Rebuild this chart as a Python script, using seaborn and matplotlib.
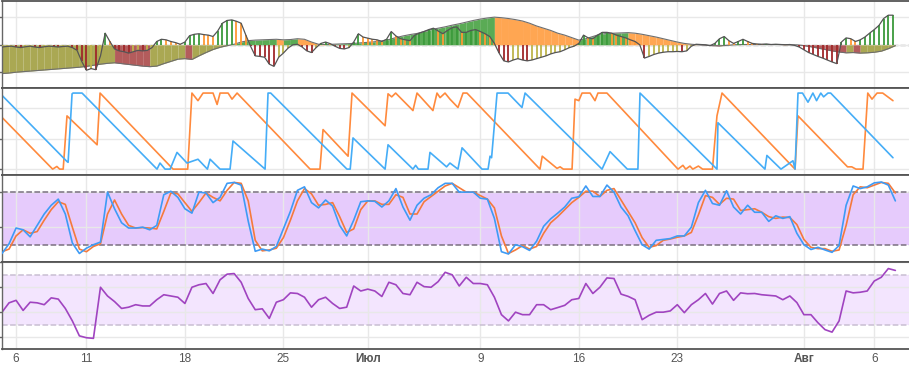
import numpy as np
import pandas as pd
import seaborn as sns
import matplotlib.pyplot as plt

# ─────────────────────────────────────────
# DATA
# ─────────────────────────────────────────
START = pd.Timestamp("2018-06-05")

# panel 1: slow oscillator (12h steps) and fast oscillator (8h steps)
osc_slow = [-1.04, -1.02, -0.99, -0.97, -0.95, -0.93, -0.91, -0.89, -0.87, -0.85,
            -0.83, -0.81, -0.78, -0.74, -0.70, -0.67, -0.65, -0.68, -0.71, -0.74,
            -0.77, -0.79, -0.77, -0.68, -0.60, -0.52, -0.50, -0.53, -0.40, -0.28,
            -0.17, -0.09, -0.03, 0.02, 0.10, 0.15, 0.17, 0.18, 0.19, 0.20,
            0.18, 0.19, 0.22, 0.20, 0.10, 0.02, 0.01, 0.02, 0.03, 0.04,
            0.05, 0.07, 0.09, 0.11, 0.14, 0.19, 0.26, 0.32, 0.37, 0.41,
            0.48, 0.55, 0.60, 0.65, 0.71, 0.76, 0.82, 0.88, 0.93, 0.97,
            1.00, 0.98, 0.95, 0.91, 0.86, 0.78, 0.68, 0.60, 0.52, 0.42,
            0.35, 0.26, 0.17, 0.22, 0.30, 0.38, 0.41, 0.42, 0.43, 0.44,
            0.42, 0.38, 0.33, 0.28, 0.22, 0.16, 0.10, 0.05, 0.02, 0.00,
            -0.01, -0.03, -0.04, -0.02, 0.00, 0.01, 0.01, 0.01, 0.01, 0.01,
            0.01, 0.01, 0.00, 0.00, -0.03, -0.07, -0.12, -0.17, -0.22, -0.26,
            -0.29, -0.28, -0.30, -0.29, -0.27, -0.23, -0.14, -0.03]

osc_fast = [-0.08, -0.06, -0.05, -0.08, -0.10, -0.07, -0.05, -0.08, -0.10, -0.07,
            -0.05, -0.06, -0.08, -0.06, -0.05, -0.10, -0.20, -0.60, -0.92, -0.86,
            -0.90, -0.40, 0.42, 0.12, -0.15, -0.22, -0.25, -0.30, -0.25, -0.20,
            -0.22, -0.20, -0.10, 0.12, 0.20, 0.18, 0.12, 0.08, 0.02, 0.10,
            0.33, 0.38, 0.40, 0.37, 0.35, 0.30, 0.50, 0.78, 0.88, 0.90,
            0.85, 0.78, 0.35, -0.05, -0.40, -0.42, -0.45, -0.70, -0.78, -0.45,
            -0.30, -0.12, 0.00, 0.02, -0.08, -0.22, -0.28, -0.10, 0.05, 0.10,
            0.04, -0.05, -0.13, -0.15, -0.10, 0.10, 0.40, 0.28, 0.24, 0.20,
            0.18, 0.12, 0.20, 0.48, 0.32, 0.22, 0.18, 0.15, 0.35, 0.42,
            0.48, 0.55, 0.60, 0.50, 0.40, 0.52, 0.62, 0.65, 0.45, 0.45,
            0.52, 0.55, 0.48, 0.40, 0.30, 0.05, -0.30, -0.58, -0.62, -0.55,
            -0.50, -0.55, -0.58, -0.55, -0.50, -0.45, -0.40, -0.33, -0.28, -0.25,
            -0.18, -0.10, -0.05, 0.05, 0.35, 0.25, 0.22, 0.35, 0.45, 0.45,
            0.42, 0.35, 0.30, 0.25, 0.18, 0.12, 0.00, -0.48, -0.42, -0.35,
            -0.30, -0.27, -0.25, -0.25, -0.24, -0.25, -0.22, -0.05, 0.02, 0.01,
            0.00, -0.03, 0.05, 0.22, 0.30, 0.15, 0.05, 0.12, 0.20, 0.12,
            0.05, 0.03, 0.02, 0.03, 0.01, 0.02, 0.01, 0.00, 0.01, -0.02,
            -0.08, -0.18, -0.28, -0.35, -0.42, -0.48, -0.55, -0.62, -0.68, 0.10,
            0.25, 0.22, 0.12, 0.18, 0.28, 0.42, 0.55, 0.70, 0.95, 1.07,
            1.07]

# panel 2: aroon lines, vertices (days since START, value)
aroon_blue_days = [0.0, 4.62, 4.70, 4.98, 5.05, 5.69, 11.02, 11.23, 11.59, 11.95,
                   12.44, 13.15, 13.93, 14.6, 14.79, 15.5, 16.21, 16.42, 18.70, 18.91,
                   19.1, 24.52, 24.75, 24.95, 27.23, 27.44, 29.21, 29.4, 29.6, 30.28,
                   30.42, 31.6, 31.84, 32.41, 32.70, 34.12, 34.55, 34.69, 34.8, 35.19,
                   35.97, 36.96, 37.18, 42.65, 43.22, 44.45, 45.2, 45.35, 50.82, 50.89,
                   54.23, 54.37, 55.37, 56.22, 56.37, 56.58, 56.9, 57.29, 57.64, 57.9,
                   58.2, 58.4, 58.71, 58.9, 63.33]
aroon_blue = [97, 10, 9, 99, 100, 100, 0, 8, 0, 0,
              22, 8, 13, 0, 13, 0, 0, 37, 0, 100,
              100, 0, 0, 41, 0, 32, 0, 5, 0, 0,
              22, 3, 8, 0, 28, 0, 0, 17, 15, 100,
              100, 81, 100, 0, 23, 0, 0, 100, 0, 61,
              0, 18, 0, 11, 0, 100, 100, 88, 100, 90,
              100, 95, 100, 100, 15]

aroon_orange_days = [0.0, 3.6, 3.9, 4.1, 4.35, 4.62, 6.76, 6.97, 12.16, 13.2,
                     13.5, 13.93, 14.29, 15.0, 15.29, 15.5, 16.07, 16.35, 16.71, 21.9,
                     22.6, 22.82, 24.6, 24.88, 27.23, 27.44, 27.7, 27.98, 29.21, 29.5,
                     30.63, 30.92, 31.14, 31.49, 31.84, 32.41, 32.77, 33.05, 38.24, 38.4,
                     39.45, 39.67, 39.9, 40.52, 40.73, 41.0, 41.23, 41.8, 42.15, 42.36,
                     43.0, 48.05, 48.4, 48.6, 48.9, 49.1, 49.5, 49.8, 50.5, 50.82,
                     51.18, 56.37, 56.58, 60.1, 60.4, 60.7, 61.2, 61.54, 61.84, 62.2,
                     62.6, 63.33]
aroon_orange = [68, 0, 3.5, 0, 0, 70, 32, 100, 0, 0,
                100, 90, 100, 100, 85, 100, 100, 92, 100, 0,
                0, 52, 17, 100, 57, 99, 95, 100, 77, 100,
                77, 100, 94, 100, 92, 81, 100, 100, 0, 17,
                1, 3, 0, 0, 92, 90, 100, 100, 90, 100,
                100, 0, 5, 0, 4, 0, 4, 0, 0, 70,
                100, 0, 70, 3, 3, 0, 0, 100, 92, 100,
                100, 90]

# panel 3: stochastic %K / %D (12h steps)
stoch_k = [10, 21, 39, 37, 29, 42, 55, 65, 72, 55,
           22, 10, 16, 20, 23, 80, 61, 45, 39, 39,
           40, 37, 42, 77, 81, 74, 61, 56, 80, 79,
           68, 74, 90, 91, 88, 47, 12.5, 15, 13, 18,
           38, 58, 82, 86, 68, 62, 71, 64, 42, 30,
           48, 69, 70, 69.5, 63, 70, 84, 63, 48, 65,
           73, 77, 85, 90, 90, 80, 80, 80, 73, 72,
           50, 12, 9.4, 20, 17.7, 13.5, 24, 41, 49.5, 56,
           63, 73, 74.7, 87, 75, 75, 88, 80, 63, 53,
           36, 20, 15, 25, 26, 27, 30, 30, 40, 68,
           82, 67, 65, 81.5, 63, 55, 65, 57, 57, 46.6,
           53, 50, 52, 33, 20, 14.5, 17, 14, 11.3, 19,
           65, 87, 84, 86, 90.5, 91.5, 88, 70]
stoch_d = [12, 15, 30, 37, 33, 35, 48, 60, 69, 66,
           40, 15, 12, 18, 21, 55, 71, 55, 42, 39,
           39.5, 39, 38, 58, 79, 78, 68, 58, 68, 79,
           74, 70, 82, 91, 90, 70, 25, 13, 14, 16,
           28, 48, 70, 84, 78, 65, 66, 68, 52, 34,
           38, 60, 70, 70, 66, 66, 77, 74, 55, 55,
           69, 75, 81, 87, 90, 85, 80, 80, 76, 72,
           62, 30, 10, 14, 19, 15, 18, 33, 45, 52,
           60, 68, 74, 81, 81, 75, 82, 84, 71, 58,
           45, 28, 17, 19, 25, 26.5, 28.5, 30, 34, 54,
           76, 74, 66, 73, 72, 59, 60, 61, 57, 52,
           50, 51.5, 51, 43, 26, 17, 15.5, 15.5, 12.5, 14,
           42, 77, 86, 85, 88, 91, 90, 79]

# panel 4: RSI (12h steps)
rsi = [40, 47.5, 49.5, 41.4, 48, 47.5, 46, 51.5, 50.5, 43,
       33, 21, 19.5, 19, 60, 53, 48.5, 43, 44, 46,
       45, 45, 50, 54, 53, 52, 47, 60, 62, 63,
       55, 66, 70.5, 71, 64, 51, 42, 42.7, 35, 48,
       50, 55.5, 55, 52, 44, 50, 52, 47, 43, 44,
       61, 57, 58.5, 57, 52.6, 64, 62, 55, 54, 64,
       60.5, 60, 64.5, 72, 70, 61, 68, 63, 63, 62,
       52, 38, 33, 40, 38, 38, 46, 46, 42, 43.7,
       45.5, 50, 51, 63, 55, 60, 67.5, 67, 54.5, 52.7,
       50, 34, 37.5, 40, 40, 41, 46, 39.6, 46, 50,
       55, 46.5, 55, 57, 49.5, 55.5, 54.8, 55, 54, 53.5,
       53, 50, 53, 47.7, 38, 38, 31.5, 26, 24, 33,
       57, 55.5, 56, 57, 65, 68, 75, 73.5]

tick_dates = ["2018-06-06", "2018-06-11", "2018-06-18", "2018-06-25", "2018-07-01",
              "2018-07-09", "2018-07-16", "2018-07-23", "2018-08-01", "2018-08-06"]
tick_labels = ["6", "11", "18", "25", "Июл", "9", "16", "23", "Авг", "6"]
month_labels = {"Июл", "Авг"}

# time axes
t12 = pd.date_range(START, periods=len(rsi), freq="12h")
t8 = pd.date_range(START, periods=len(osc_fast), freq="8h")
t_blue = START + pd.to_timedelta(aroon_blue_days, unit="D")
t_orange = START + pd.to_timedelta(aroon_orange_days, unit="D")

# ─────────────────────────────────────────
# STYLE
# ─────────────────────────────────────────
sns.set_style("whitegrid", {"grid.color": "#e8e8e8", "axes.edgecolor": "#555555"})
plt.rcParams["font.family"] = ["Liberation Sans", "DejaVu Sans"]

FILL_GREEN, FILL_ORANGE = "#5aab55", "#ffa652"
FILL_OLIVE, FILL_BROWN = "#aaa853", "#b35c5c"
BAR_GREEN, BAR_ORANGE = "#3a9a3a", "#ff9933"
BAR_RED, BAR_OLIVE = "#a0282a", "#bdb44c"

fig, axes = plt.subplots(4, 1, figsize=(9.09, 3.65), dpi=100, sharex=True)
fig.subplots_adjust(left=0.0022, right=1.0, top=0.997, bottom=0.045, hspace=0)
ax1, ax2, ax3, ax4 = axes

# ─────────────────────────────────────────
# PANEL 1 — oscillator with coloured area and bars
# ─────────────────────────────────────────
slow = np.array(osc_slow)
for k in range(len(slow) - 1):
    a0, a1 = slow[k], slow[k + 1]
    if a0 + a1 >= 0:
        c = FILL_GREEN if a1 >= a0 else FILL_ORANGE
    else:
        c = FILL_OLIVE if a1 >= a0 else FILL_BROWN
    ax1.fill_between(t12[k:k + 2], 0, slow[k:k + 2], color=c, lw=0, zorder=1)
sns.lineplot(x=t12, y=slow, ax=ax1, color="#6e6e6e", linewidth=0.8, zorder=2)

fast = np.array(osc_fast)
diff = np.diff(fast, prepend=fast[0])
bar_colors = np.where(fast >= 0,
                      np.where(diff >= 0, BAR_GREEN, BAR_ORANGE),
                      np.where(diff < 0, BAR_RED, BAR_OLIVE))
ax1.vlines(t8, 0, fast, colors=bar_colors, linewidth=1.3, zorder=3)
sns.lineplot(x=t8, y=fast, ax=ax1, color="#555555", linewidth=0.9, zorder=4)
ax1.axhline(0, color="#999999", linestyle="--", linewidth=1, zorder=0)
ax1.set_ylim(-1.56, 1.58)
ax1.set_yticks([-1, 0, 1])

# ─────────────────────────────────────────
# PANEL 2 — aroon
# ─────────────────────────────────────────
sns.lineplot(x=t_orange, y=aroon_orange, ax=ax2, color="#ff8a3d", linewidth=1.2)
sns.lineplot(x=t_blue, y=aroon_blue, ax=ax2, color="#45adf7", linewidth=1.2)
ax2.set_ylim(-7.5, 106.7)
ax2.set_yticks([0, 40, 80])

# ─────────────────────────────────────────
# PANEL 3 — stochastic
# ─────────────────────────────────────────
ax3.axhspan(20, 80, color="#e6cbfc", lw=0, zorder=0)
for lvl in (20, 80):
    ax3.axhline(lvl, color="#7a7080", linestyle="--", linewidth=1.1, zorder=1)
sns.lineplot(x=t12, y=stoch_d, ax=ax3, color="#f57a3c", linewidth=1.2, zorder=2)
sns.lineplot(x=t12, y=stoch_k, ax=ax3, color="#3e9bf5", linewidth=1.2, zorder=3)
ax3.set_ylim(0.6, 99.7)
ax3.set_yticks([40, 80])

# ─────────────────────────────────────────
# PANEL 4 — RSI
# ─────────────────────────────────────────
ax4.axhspan(30, 70, color="#f3e5fe", lw=0, zorder=0)
for lvl in (30, 70):
    ax4.axhline(lvl, color="#c9bfd2", linestyle="--", linewidth=1.1, zorder=1)
sns.lineplot(x=t12, y=rsi, ax=ax4, color="#a044c0", linewidth=1.2, zorder=2)
ax4.set_ylim(10.8, 80.5)
ax4.set_yticks([20, 40, 60, 80])

# ─────────────────────────────────────────
# AXES COSMETICS
# ─────────────────────────────────────────
ax4.set_xlim(START, START + pd.Timedelta(days=64.47))
ax4.set_xticks(pd.to_datetime(tick_dates))
ax4.set_xticklabels(tick_labels)
for lab in ax4.get_xticklabels():
    lab.set_color("#555555")
    lab.set_fontsize(8.5)
    if lab.get_text() in month_labels:
        lab.set_fontweight("bold")

for ax in axes:
    ax.set_xlabel("")
    ax.set_ylabel("")
    ax.grid(True, color="#e8e8e8", linewidth=1)
    ax.set_axisbelow(True)
    ax.spines["right"].set_visible(False)
    for side in ("top", "bottom"):
        ax.spines[side].set_color("#555555")
        ax.spines[side].set_linewidth(1.3)
    ax.spines["left"].set_color("#666666")
    ax.spines["left"].set_linewidth(1)
    ax.tick_params(axis="y", left=True, length=3, width=1, color="#666666",
                   labelleft=False)
    ax.tick_params(axis="x", bottom=False, length=0, pad=3)
    legend = ax.get_legend()
    if legend is not None:
        legend.remove()

plt.savefig("out.png", dpi=100)
